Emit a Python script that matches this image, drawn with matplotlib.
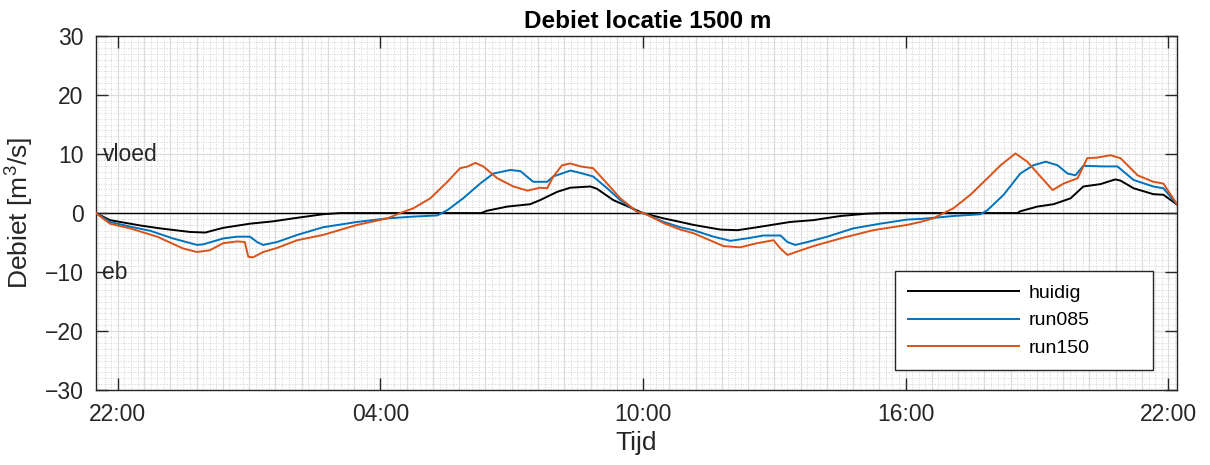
import numpy as np
import pandas as pd
import matplotlib
matplotlib.use('Agg')
import matplotlib.pyplot as plt
import matplotlib.dates as mdates

plt.rcParams['font.family'] = ['Liberation Sans', 'DejaVu Sans']
plt.rcParams['mathtext.fontset'] = 'custom'
plt.rcParams['mathtext.rm'] = 'Liberation Sans'
plt.rcParams['mathtext.it'] = 'Liberation Sans:italic'

# time in hours after 22:00 on the first day, debiet in m3/s
t_huidig = [-0.5, -0.18, 0.51, 0.97, 1.65, 2.0, 2.2, 2.41, 3.02, 3.55, 4.10, 4.69, 5.08,
            8.30, 8.44, 8.90, 9.42, 9.65, 10.04, 10.34, 10.80, 10.95, 11.32, 12.0,
            12.47, 12.85, 13.15, 13.77, 14.16, 14.61, 15.37, 15.89, 16.51, 17.12, 17.5,
            20.55, 20.62, 21.01, 21.38, 21.77, 22.06, 22.45, 22.79, 22.91, 23.21,
            23.66, 23.89, 24.21]
q_huidig = [0, -1.2, -2.1, -2.6, -3.2, -3.3, -2.9, -2.5, -1.8, -1.4, -0.8, -0.2, 0,
            0, 0.4, 1.1, 1.5, 2.2, 3.6, 4.3, 4.5, 4.1, 2.2, 0,
            -0.9, -1.5, -2.0, -2.8, -2.9, -2.4, -1.5, -1.2, -0.5, -0.1, 0,
            0, 0.3, 1.1, 1.5, 2.5, 4.5, 4.9, 5.7, 5.5, 4.2,
            3.2, 3.1, 1.4]

t_run085 = [-0.5, -0.18, 0.28, 0.74, 1.26, 1.81, 1.95, 2.41, 2.73, 3.02, 3.18, 3.32,
            3.64, 4.10, 4.69, 5.47, 6.16, 6.75, 7.30, 7.53, 7.89, 8.28, 8.58, 8.97,
            9.20, 9.49, 9.81, 9.95, 10.34, 10.57, 10.86, 11.18, 11.48, 11.87, 12.0,
            12.47, 12.85, 13.15, 13.61, 14.0, 14.45, 14.75, 15.14, 15.30, 15.48,
            15.76, 16.21, 16.80, 17.42, 18.04, 18.34, 18.8, 19.09, 19.71, 19.87,
            20.24, 20.62, 20.92, 21.20, 21.47, 21.70, 21.88, 22.06, 22.52, 22.84,
            23.21, 23.66, 23.89, 24.21]
q_run085 = [0, -1.5, -2.3, -3.0, -4.3, -5.4, -5.3, -4.3, -4.0, -4.0, -4.9, -5.4,
            -4.9, -3.7, -2.4, -1.5, -0.9, -0.6, -0.4, 0.5, 2.5, 5.0, 6.7, 7.3,
            7.1, 5.3, 5.3, 6.2, 7.2, 6.8, 6.2, 4.2, 2.2, 0.2, 0,
            -1.5, -2.4, -2.9, -4.0, -4.7, -4.2, -3.8, -3.8, -4.9, -5.4,
            -4.9, -4.0, -2.6, -1.8, -1.1, -1.0, -0.7, -0.5, -0.2, 0.5,
            3.1, 6.7, 8.1, 8.7, 8.1, 6.7, 6.4, 8.0, 7.9, 7.9,
            5.6, 4.5, 4.2, 1.4]

t_run150 = [-0.5, -0.18, 0.28, 0.90, 1.49, 1.81, 2.1, 2.41, 2.73, 2.9, 2.98, 3.09,
            3.32, 3.64, 4.10, 4.69, 5.47, 6.16, 6.45, 6.75, 7.14, 7.53, 7.82, 8.0,
            8.17, 8.35, 8.67, 9.04, 9.36, 9.65, 9.81, 9.95, 10.15, 10.34, 10.57,
            10.86, 11.18, 11.48, 11.87, 12.0, 12.10, 12.47, 12.85, 13.15, 13.84,
            14.22, 14.61, 14.98, 15.14, 15.30, 15.53, 15.89, 16.51, 17.26, 18.04,
            18.34, 18.63, 18.79, 19.09, 19.48, 19.87, 20.17, 20.51, 20.78, 21.08,
            21.36, 21.61, 21.93, 22.15, 22.38, 22.68, 22.91, 23.30, 23.66, 23.89,
            24.21]
q_run150 = [0, -1.8, -2.6, -4.0, -6.0, -6.6, -6.3, -5.1, -4.8, -4.9, -7.4, -7.5,
            -6.6, -5.9, -4.6, -3.7, -2.0, -0.9, 0, 0.8, 2.5, 5.3, 7.6, 7.9,
            8.5, 7.9, 5.9, 4.5, 3.8, 4.3, 4.2, 6.2, 8.1, 8.4, 7.9,
            7.6, 5.0, 2.5, 0.2, 0, -0.3, -1.7, -2.8, -3.4, -5.6,
            -5.8, -5.1, -4.6, -6.0, -7.1, -6.5, -5.6, -4.3, -2.9, -2.0,
            -1.5, -0.9, -0.3, 0.8, 3.1, 5.9, 8.1, 10.1, 8.7, 6.2,
            3.9, 5.0, 5.9, 9.3, 9.4, 9.8, 9.3, 6.4, 5.3, 5.0,
            1.4]

start = pd.Timestamp('2020-01-01 22:00')


def to_time(hours):
    return (start + pd.to_timedelta(np.asarray(hours, dtype=float), unit='h')).to_numpy()


fig = plt.figure(figsize=(12.1, 4.65), dpi=100)
ax = fig.add_axes([0.0793, 0.161, 0.8934, 0.7616])

t0, t1 = to_time([-0.5, 24.2])
ax.set_xlim(t0, t1)
ax.set_ylim(-30, 30)

# grid: fine dotted lines, solid lines every 36 min and every 10 m3/s
grid_c = '#d4d4d4'
for h in np.arange(-0.45, 24.2, 0.15):
    ax.axvline(to_time([h])[0], color=grid_c, lw=0.7, ls=(0, (1, 1.5)), zorder=0)
for y in range(-30, 31):
    ax.axhline(y, color=grid_c, lw=0.7, ls=(0, (1, 1.5)), zorder=0)
for h in np.arange(0.0, 24.2, 0.6):
    ax.axvline(to_time([h])[0], color='#dcdcdc', lw=0.9, zorder=0)
for y in range(-30, 31, 10):
    ax.axhline(y, color='#dcdcdc', lw=0.9, zorder=0)

ax.axhline(0, color='black', lw=1.0, zorder=1)

ax.plot(to_time(t_huidig), q_huidig, color='black', lw=1.4, label='huidig', zorder=3)
ax.plot(to_time(t_run085), q_run085, color='#0072BD', lw=1.4, label='run085', zorder=3)
ax.plot(to_time(t_run150), q_run150, color='#D95319', lw=1.4, label='run150', zorder=3)

ax.xaxis.set_major_locator(mdates.HourLocator(byhour=[4, 10, 16, 22]))
ax.xaxis.set_major_formatter(mdates.DateFormatter('%H:%M'))
ax.set_yticks(range(-30, 31, 10))
ax.tick_params(direction='in', top=True, right=True, length=8.5, width=1,
               labelsize=16.5, colors='#262626', pad=9)
for s in ax.spines.values():
    s.set_color('#262626')
    s.set_linewidth(1)

ax.text(0.006, 10, 'vloed', transform=ax.get_yaxis_transform(), fontsize=16.5,
        color='#262626', va='center', ha='left')
ax.text(0.006, -10, 'eb', transform=ax.get_yaxis_transform(), fontsize=16.5,
        color='#262626', va='center', ha='left')

ax.set_title('Debiet locatie 1500 m', fontsize=17.5, fontweight='bold', x=0.51, pad=6)
ax.set_xlabel('Tijd', fontsize=19, color='#262626', labelpad=4)
ax.set_ylabel('Debiet [m$^3$/s]', fontsize=19, color='#262626', labelpad=6)

leg = ax.legend(loc='lower left', bbox_to_anchor=(0.739, 0.056, 0.239, 0.274),
                mode='expand', fontsize=14, handlelength=5.7, handletextpad=0.5,
                labelspacing=0.5, borderpad=0.7, borderaxespad=0, fancybox=False,
                framealpha=1)
leg.get_frame().set_edgecolor('#262626')
leg.get_frame().set_linewidth(1)
for line in leg.get_lines():
    line.set_linewidth(1.4)

fig.savefig('out.png', dpi=100)
